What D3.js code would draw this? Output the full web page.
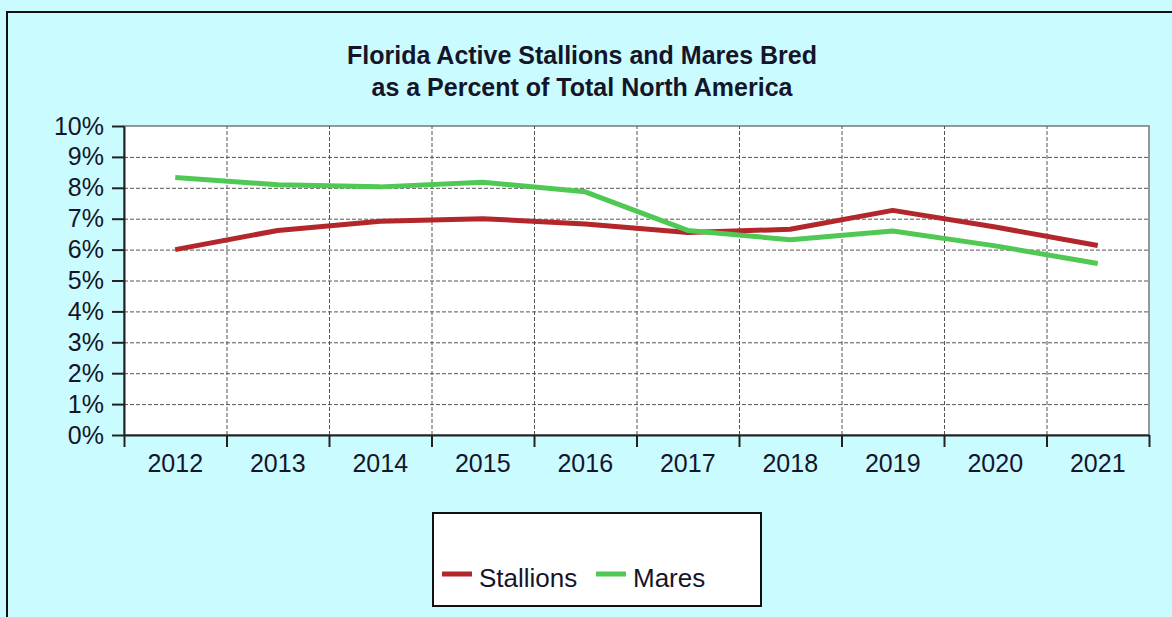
<!DOCTYPE html>
<html>
<head>
<meta charset="utf-8">
<script src="https://cdn.jsdelivr.net/npm/d3@7"></script>
<style>
  body { margin: 0; background: #c9fbff; }
  svg { display: block; font-family: "Liberation Sans", Arial, sans-serif; }
</style>
</head>
<body>
<svg width="1172" height="617"></svg>
<script>
// data
const years = ['2012', '2013', '2014', '2015', '2016', '2017', '2018', '2019', '2020', '2021'];
const stallions = [6.0, 6.62, 6.92, 7.0, 6.83, 6.55, 6.66, 7.27, 6.73, 6.13];
const mares = [8.33, 8.1, 8.03, 8.18, 7.87, 6.62, 6.32, 6.6, 6.12, 5.55];
const yTicks = [0, 1, 2, 3, 4, 5, 6, 7, 8, 9, 10];
const titleLines = ['Florida Active Stallions and Mares Bred', 'as a Percent of Total North America'];

const series = [
    { name: 'Stallions', values: stallions, color: '#b3262c' },
    { name: 'Mares', values: mares, color: '#50c854' }
];

const textColor = '#15152a';

const svg = d3.select('svg');
const width = +svg.attr('width');
const height = +svg.attr('height');

// outer frame (runs off the right / bottom of the picture)
svg.append('rect')
    .attr('x', 7).attr('y', 12)
    .attr('width', width).attr('height', height)
    .attr('fill', '#c9fbff')
    .attr('stroke', '#111')
    .attr('stroke-width', 2);

const plot = { left: 124, right: 1149, top: 126, bottom: 435 };

const xScale = d3.scaleBand()
    .domain(years)
    .range([plot.left, plot.right]);

// edges of the categories, for ticks and vertical grid
const xEdge = d3.scaleLinear()
    .domain([0, years.length])
    .range([plot.left, plot.right]);

const yScale = d3.scaleLinear()
    .domain([0, 10])
    .range([plot.bottom, plot.top]);

// plot background
svg.append('rect')
    .attr('x', plot.left).attr('y', plot.top)
    .attr('width', plot.right - plot.left)
    .attr('height', plot.bottom - plot.top)
    .attr('fill', '#fff')
    .attr('stroke', '#777')
    .attr('stroke-width', 1.5);

// horizontal grid
const yGrid = svg.append('g')
    .attr('transform', `translate(${plot.left},0)`)
    .call(d3.axisLeft(yScale)
        .tickValues(yTicks.slice(1, -1))
        .tickSize(-(plot.right - plot.left))
        .tickFormat(''));
yGrid.select('.domain').remove();
yGrid.selectAll('line')
    .attr('stroke', '#555')
    .attr('stroke-dasharray', '4,2');

// vertical grid
const xGrid = svg.append('g')
    .attr('transform', `translate(0,${plot.bottom})`)
    .call(d3.axisBottom(xEdge)
        .tickValues(d3.range(1, years.length))
        .tickSize(-(plot.bottom - plot.top))
        .tickFormat(''));
xGrid.select('.domain').remove();
xGrid.selectAll('line')
    .attr('stroke', '#555')
    .attr('stroke-dasharray', '4,2');

// y axis
const yAxisG = svg.append('g')
    .attr('transform', `translate(${plot.left},0)`)
    .call(d3.axisLeft(yScale)
        .tickValues(yTicks)
        .tickFormat(d => d + '%')
        .tickSize(12)
        .tickSizeOuter(0)
        .tickPadding(8));
yAxisG.select('.domain').attr('stroke', '#222').attr('stroke-width', 2);
yAxisG.selectAll('line').attr('stroke', '#222').attr('stroke-width', 2);
yAxisG.selectAll('text')
    .attr('font-size', 25)
    .attr('fill', textColor)
    .attr('font-family', '"Liberation Sans", Arial, sans-serif');

// x axis: ticks at category edges, labels at centres
const xTickG = svg.append('g')
    .attr('transform', `translate(0,${plot.bottom})`)
    .call(d3.axisBottom(xEdge)
        .tickValues(d3.range(0, years.length + 1))
        .tickSize(12)
        .tickSizeOuter(0)
        .tickFormat(''));
xTickG.select('.domain').attr('stroke', '#222').attr('stroke-width', 2);
xTickG.selectAll('line').attr('stroke', '#222').attr('stroke-width', 2);

const xLabelG = svg.append('g')
    .attr('transform', `translate(0,${plot.bottom})`)
    .call(d3.axisBottom(xScale).tickSize(0).tickPadding(19));
xLabelG.select('.domain').remove();
xLabelG.selectAll('text')
    .attr('font-size', 25)
    .attr('fill', textColor)
    .attr('font-family', '"Liberation Sans", Arial, sans-serif');

// lines
const line = d3.line()
    .x((d, i) => xScale(years[i]) + xScale.bandwidth() / 2)
    .y(d => yScale(d));

svg.selectAll('path.series')
    .data(series)
    .enter().append('path')
    .attr('class', 'series')
    .attr('d', d => line(d.values))
    .attr('fill', 'none')
    .attr('stroke', d => d.color)
    .attr('stroke-width', 5)
    .attr('stroke-linejoin', 'round');

// title
svg.append('text')
    .attr('x', 582)
    .attr('y', 64)
    .attr('text-anchor', 'middle')
    .attr('font-size', 25)
    .attr('font-weight', 'bold')
    .attr('fill', textColor)
    .selectAll('tspan')
    .data(titleLines)
    .enter().append('tspan')
    .attr('x', 582)
    .attr('dy', (d, i) => i === 0 ? 0 : 32)
    .text(d => d);

// legend
const legend = svg.append('g');
legend.append('rect')
    .attr('x', 433).attr('y', 513)
    .attr('width', 328).attr('height', 93)
    .attr('fill', '#fff')
    .attr('stroke', '#111')
    .attr('stroke-width', 2);

const legendX = [442, 596];
const item = legend.selectAll('g.item')
    .data(series)
    .enter().append('g')
    .attr('class', 'item')
    .attr('transform', (d, i) => `translate(${legendX[i]},574)`);
item.append('line')
    .attr('x1', 0).attr('x2', 30)
    .attr('stroke', d => d.color)
    .attr('stroke-width', 5);
item.append('text')
    .attr('x', 37)
    .attr('y', 13)
    .attr('font-size', 26)
    .attr('fill', textColor)
    .text(d => d.name);
</script>
</body>
</html>
